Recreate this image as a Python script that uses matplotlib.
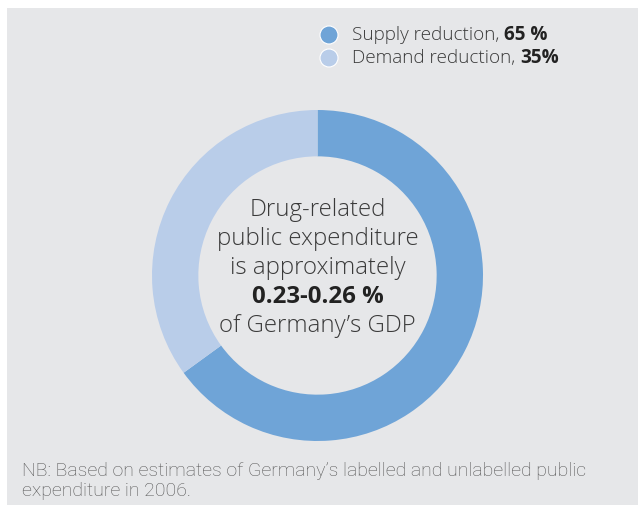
import matplotlib.pyplot as plt
from matplotlib.patches import Rectangle, Circle

# spending split (share of drug-related public expenditure)
labels = ["Supply reduction", "Demand reduction"]
shares = [65, 35]
share_text = ["65 %", "35%"]
colors = ["#6fa4d7", "#b9cde9"]

center_lines = ["Drug-related", "public expenditure", "is approximately"]
center_bold = "0.23-0.26 %"
center_last = "of Germany\u2019s GDP"
note = ("NB: Based on estimates of Germany\u2019s labelled and unlabelled public\n"
        "expenditure in 2006.")

W, H = 638, 511
bg = "#e6e7e9"
txt = "#3a3a3a"
wide = ['Open Sans', 'DejaVu Sans']

plt.rcParams['font.family'] = ['Roboto', 'DejaVu Sans']

fig = plt.figure(figsize=(W / 100, H / 100), dpi=100)

# overlay in pixel coordinates for panel, legend and notes
ov = fig.add_axes([0, 0, 1, 1])
ov.set_xlim(0, W)
ov.set_ylim(H, 0)
ov.axis("off")
ov.add_patch(Rectangle((7, 8), W - 7, 497, facecolor=bg, edgecolor="none"))

# donut
cx, cy, r = 317.5, 275.5, 165.5
ax = fig.add_axes([(cx - r) / W, (H - cy - r) / H, 2 * r / W, 2 * r / H])
ax.pie(shares, colors=colors, startangle=90, counterclock=False,
       radius=1, wedgeprops=dict(width=0.28, edgecolor="none"))
ax.set_xlim(-1, 1)
ax.set_ylim(-1, 1)
ax.set_aspect("equal")
ax.axis("off")

# legend
for i, (lab, val, c) in enumerate(zip(labels, share_text, colors)):
    y = 35 + i * 23
    ov.add_patch(Circle((329, y), 9, facecolor=c, edgecolor="white", lw=0.8))
    t = ov.text(352, y, lab + ", ", fontsize=13.6, color=txt, family=wide,
                fontweight="light", va="center", ha="left")
    fig.canvas.draw()
    bb = t.get_window_extent()
    xr = ov.transData.inverted().transform((bb.x1, bb.y0))[0]
    ov.text(xr, y, val, fontsize=13.6, color="#222222", family=wide,
            fontweight="bold", va="center", ha="left")

# centre text
ys = [210, 239, 268]
for line, y in zip(center_lines, ys):
    ov.text(cx, y, line, fontsize=17.3, color=txt, fontweight="light",
            family=wide, ha="center", va="center")
ov.text(cx, 297, center_bold, fontsize=17.3, color="#222222", fontweight="bold",
        family=wide, ha="center", va="center")
ov.text(cx, 326, center_last, fontsize=17.3, color=txt, fontweight="light",
        family=wide, ha="center", va="center")

ov.text(22, 481, note, fontsize=14, color="#555555", fontweight="light",
        ha="left", va="center", linespacing=1.15)

fig.savefig("out.png", dpi=100, facecolor="white")
